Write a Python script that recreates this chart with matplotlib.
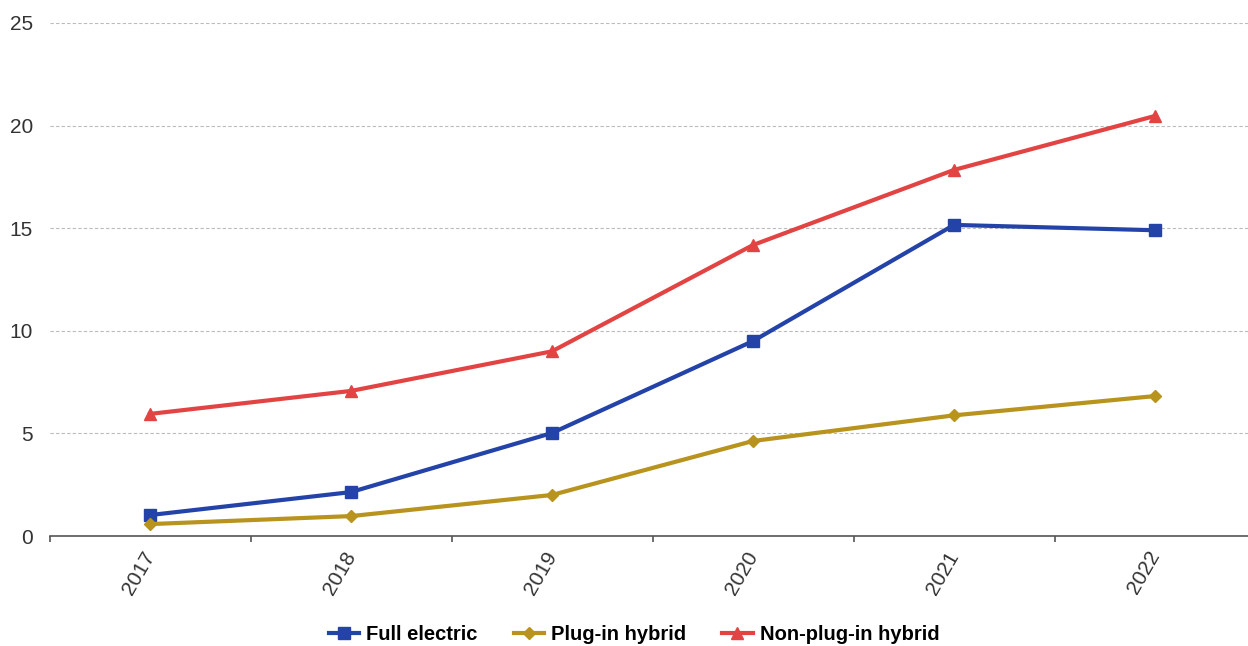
import matplotlib
matplotlib.use("Agg")
import matplotlib.pyplot as plt
import matplotlib.transforms as mtrans
import numpy as np

years = ["2017", "2018", "2019", "2020", "2021", "2022"]
full_electric = [1.02, 2.14, 5.02, 9.5, 15.16, 14.9]
plugin_hybrid = [0.58, 0.97, 2.0, 4.63, 5.88, 6.82]
nonplugin_hybrid = [5.95, 7.07, 9.0, 14.18, 17.84, 20.47]

plt.rcParams['font.family'] = ['Liberation Sans', 'DejaVu Sans']

fig = plt.figure(figsize=(12.48, 6.46), dpi=100)
ax = fig.add_axes([49.5/1248, 1-536/646, 1206/1248, (536-23)/646])

x = np.arange(len(years))
ax.plot(x, full_electric, color='#2443A8', lw=3, marker='s', ms=8, label='Full electric', zorder=3)
ax.plot(x, plugin_hybrid, color='#B8931E', lw=3, marker='D', ms=6.5, label='Plug-in hybrid', zorder=3)
ax.plot(x, nonplugin_hybrid, color='#E24444', lw=3, marker='^', ms=8.5, label='Non-plug-in hybrid', zorder=3)

ax.set_xlim(-0.5, len(years) - 0.5)
ax.set_ylim(0, 25)
ax.set_yticks([0, 5, 10, 15, 20, 25])
ax.set_xticks(x)
ax.set_xticklabels(years, fontsize=15, color='#333333')
offset = mtrans.ScaledTranslation(-3/100, 0, fig.dpi_scale_trans)
for lbl in ax.get_xticklabels():
    lbl.set_rotation(60)
    lbl.set_rotation_mode('anchor')
    lbl.set_ha('right')
    lbl.set_va('center')
    lbl.set_transform(lbl.get_transform() + offset)
ax.set_xticks(np.arange(-0.5, len(years), 1.0), minor=True)
ax.tick_params(axis='x', which='major', length=0, pad=12)
ax.tick_params(axis='x', which='minor', length=4, width=1.2, color='#555555', direction='out')
ax.tick_params(axis='y', length=0, labelsize=15, labelcolor='#333333', pad=12)
ax.yaxis.grid(True, linestyle=(0, (3, 2)), color='#BBBBBB', lw=0.8)
ax.set_axisbelow(True)
for s in ['top', 'right', 'left']:
    ax.spines[s].set_visible(False)
ax.spines['bottom'].set_color('#555555')
ax.spines['bottom'].set_linewidth(1.2)

leg = fig.legend(loc='center', bbox_to_anchor=(634/1248, 1-635/646), ncol=3, frameon=False,
                 prop={'size': 14.5, 'weight': 'bold'}, handlelength=1.5, columnspacing=1.8,
                 handletextpad=0.35)

fig.savefig('out.png', dpi=100)
